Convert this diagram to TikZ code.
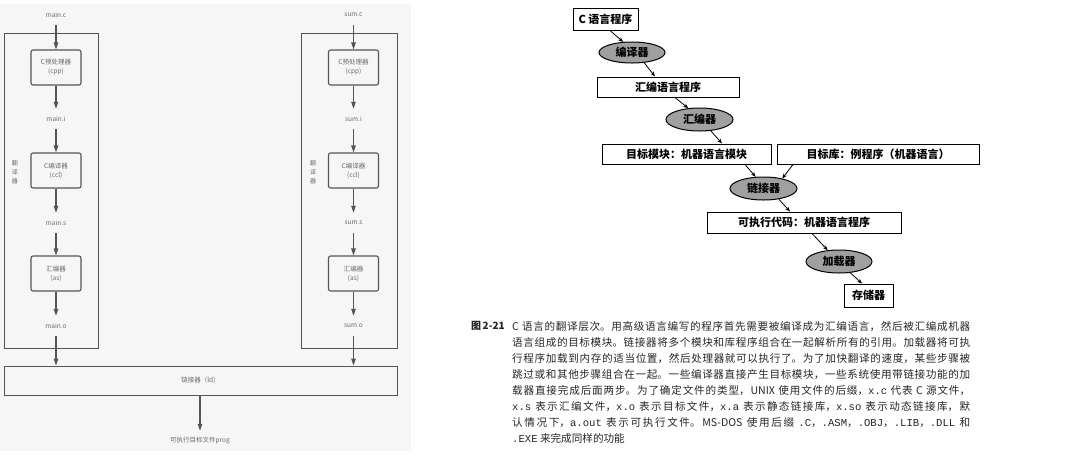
\documentclass[tikz,border=0pt]{standalone}
\usepackage{fontspec}
\setmonofont{Liberation Mono}
\newfontfamily\cjk{Noto Sans CJK SC}
\usetikzlibrary{arrows.meta,positioning,calc,shapes.geometric}
\XeTeXlinebreaklocale "zh"
\XeTeXlinebreakskip=0pt plus 1pt

\definecolor{panel}{HTML}{F6F6F6}
\definecolor{flow}{HTML}{555555}
\definecolor{flowtext}{HTML}{6A6A6A}
\definecolor{oval}{HTML}{A0A0A0}

\begin{document}
\begin{tikzpicture}[x=1pt, y=-1pt, every node/.style={font=\cjk},
  lbl/.style={font=\cjk\fontsize{6.5}{8}\selectfont, text=flowtext, inner sep=0pt, minimum height=20},
  tool/.style={draw=flow, line width=1.1pt, rounded corners=2pt, minimum width=50, minimum height=35, align=center, inner sep=0pt, font=\cjk\fontsize{6.5}{9}\selectfont, text=flowtext},
  frame/.style={draw=flow, line width=0.9pt, inner sep=0pt},
  flowarr/.style={draw=flow, line width=1.1pt, -{Triangle[length=7pt,width=4.5pt]}},
  bookbox/.style={draw, line width=1pt, inner sep=0pt, font=\cjk\bfseries\fontsize{11}{13}\selectfont},
  bookoval/.style={ellipse, draw, line width=1pt, fill=oval, inner sep=0pt, font=\cjk\bfseries\fontsize{11}{13}\selectfont},
  bookarr/.style={line width=0.8pt, -{Stealth[length=5pt,width=4pt]}}]
  \useasboundingbox (0,0) rectangle (1080,459);
  \fill[white] (0,0) rectangle (1080,459);
  \fill[panel] (0,4) rectangle (411,451);

  % two translation chains
  \foreach \f/\x/\ox/\ow/\vx in {main/56/51/94/15, sum/353.5/349/96/313}{
    \node[frame, minimum width=\ow, minimum height=315] (\f-tr) at (\ox,190.5) {};
    \node[lbl, align=center, font=\cjk\fontsize{6}{9}\selectfont] (\f-trlab) at (\vx,172) {翻\\译\\器};
    \node[lbl] (\f-c) at (\x,15) {\f.c};
    \node[tool] (\f-cpp) at (\x,67.5) {C预处理器\\(cpp)};
    \node[lbl] (\f-i) at (\x,119) {\f.i};
    \node[tool] (\f-ccl) at (\x,170.5) {C编译器\\(ccl)};
    \node[lbl] (\f-s) at (\x,223) {\f.s};
    \node[tool] (\f-as) at (\x,273.5) {汇编器\\(as)};
    \node[lbl] (\f-o) at (\x,326) {\f.o};
    \draw[flowarr] (\f-c) -- (\f-cpp);
    \draw[flowarr] (\f-cpp) -- (\f-i);
    \draw[flowarr] (\f-i) -- (\f-ccl);
    \draw[flowarr] (\f-ccl) -- (\f-s);
    \draw[flowarr] (\f-s) -- (\f-as);
    \draw[flowarr] (\f-as) -- (\f-o);
  }
  \node[frame, minimum width=393, minimum height=29, font=\cjk\fontsize{6.5}{8}\selectfont, text=flowtext] (ld) at (200.5,380.5) {链接器（ld）};
  \node[lbl] (prog) at (200,441) {可执行目标文件prog};
  \foreach \f in {main,sum}
    \draw[flowarr] (\f-o) -- (\f-o |- ld.north);
  \draw[flowarr] (ld.south -| prog) -- (prog);

  % book figure
  \node[bookbox, minimum width=65, minimum height=22] (csrc) at (605.5,19) {C 语言程序};
  \node[bookoval, minimum width=66, minimum height=21] (cc) at (632,52.5) {编译器};
  \node[bookbox, minimum width=142, minimum height=20] (asmsrc) at (668,87) {汇编语言程序};
  \node[bookoval, minimum width=67, minimum height=23] (asm) at (699.5,119.5) {汇编器};
  \node[bookbox, minimum width=169, minimum height=20] (objmod) at (686.5,154) {目标模块：机器语言模块};
  \node[bookbox, minimum width=202, minimum height=20] (objlib) at (878,154) {目标库：例程序（机器语言）};
  \node[bookoval, minimum width=67, minimum height=23] (link) at (763.5,188.5) {链接器};
  \node[bookbox, minimum width=194, minimum height=21] (exe) at (804,222.5) {可执行代码：机器语言程序};
  \node[bookoval, minimum width=66, minimum height=23] (load) at (839,261.5) {加载器};
  \node[bookbox, minimum width=49, minimum height=23] (mem) at (868.5,295.5) {存储器};
  \draw[bookarr] ([xshift=4.5]csrc.south) -- (cc.130);
  \draw[bookarr] (cc.-40) -- ([xshift=-13]asmsrc.north);
  \draw[bookarr] ([xshift=7]asmsrc.south) -- (asm.135);
  \draw[bookarr] (asm.-45) -- ([xshift=35.5]objmod.north);
  \draw[bookarr] ([xshift=58.5]objmod.south) -- (link.124);
  \draw[bookarr] ([xshift=-85]objlib.south) -- (link.28);
  \draw[bookarr] (link.-35) -- ([xshift=-14]exe.north);
  \draw[bookarr] ([xshift=8]exe.south) -- (load.135);
  \draw[bookarr] (load.-45) -- ([xshift=-6.5]mem.north);

  \node[anchor=north east, inner sep=0pt, text=black!85, font=\cjk\bfseries\fontsize{10}{16}\selectfont] (fignum) at (505,321.5) {图\,2-21};
  \node[anchor=north west, inner sep=0pt, text=black!85, text width=458, align=justify, font=\cjk\fontsize{10.6}{16}\selectfont] (caption) at (512,321) {%
C 语言的翻译层次。用高级语言编写的程序首先需要被编译成为汇编语言，然后被汇编成机器\linebreak
语言组成的目标模块。链接器将多个模块和库程序组合在一起解析所有的引用。加载器将可执\linebreak
行程序加载到内存的适当位置，然后处理器就可以执行了。为了加快翻译的速度，某些步骤被\linebreak
跳过或和其他步骤组合在一起。一些编译器直接产生目标模块，一些系统使用带链接功能的加\linebreak
载器直接完成后面两步。为了确定文件的类型，UNIX 使用文件的后缀，\texttt{x.c} 代表 C 源文件，\linebreak
\texttt{x.s} 表示汇编文件，\texttt{x.o} 表示目标文件，\texttt{x.a} 表示静态链接库，\texttt{x.so} 表示动态链接库，默\linebreak
认情况下，\texttt{a.out} 表示可执行文件。MS-DOS 使用后缀 \texttt{.C}，\texttt{.ASM}，\texttt{.OBJ}，\texttt{.LIB}，\texttt{.DLL} 和\linebreak
\texttt{.EXE} 来完成同样的功能};
\end{tikzpicture}
\end{document}
